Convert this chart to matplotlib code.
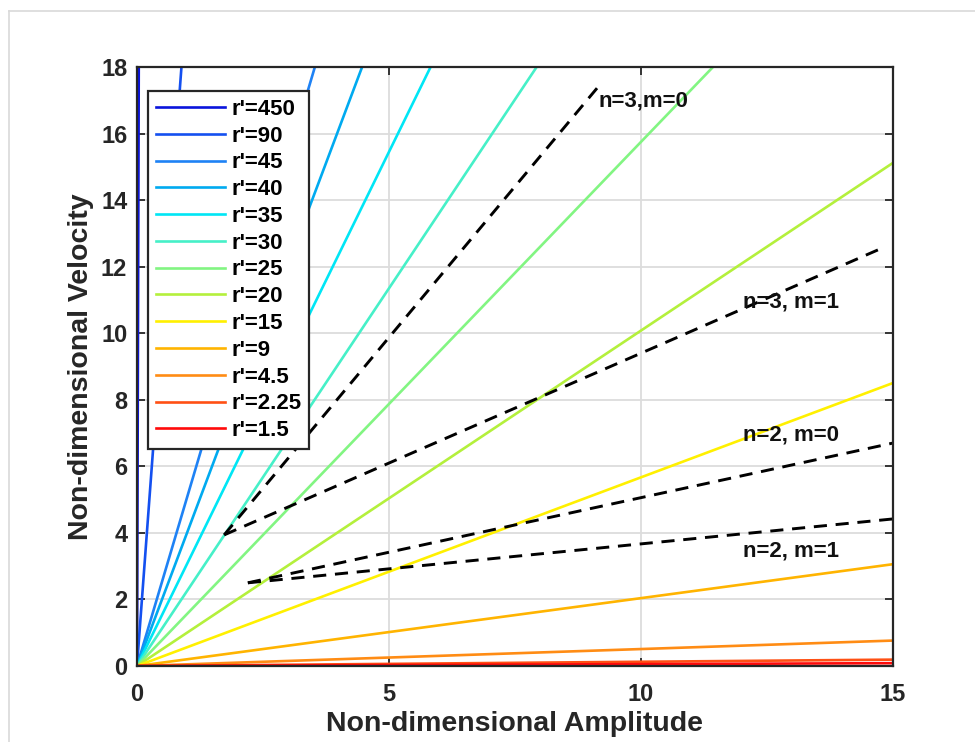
import numpy as np
import matplotlib
matplotlib.use("Agg")
import matplotlib.pyplot as plt
from matplotlib.lines import Line2D

# r' values and slopes of V = slope * A
r_labels = ["450", "90", "45", "40", "35", "30", "25", "20", "15", "9", "4.5", "2.25", "1.5"]
slopes = [510.0, 20.4, 5.1, 4.03, 3.09, 2.27, 1.575, 1.008, 0.567, 0.204, 0.051, 0.0128, 0.0057]
colors = ["#0A14DC", "#1450F0", "#1E82F5", "#00AAF0", "#00E6F5", "#46F0C8", "#82F582",
          "#B4F03C", "#FFF000", "#FFB400", "#FF8C14", "#FF5014", "#FF0A0A"]

# dashed mode boundaries (start / end points)
n3m0_x = [1.73, 9.23]
n3m0_y = [3.94, 17.55]
n3m1_x = [1.73, 14.74]
n3m1_y = [3.94, 12.53]
n2m0_x = [2.2, 15.0]
n2m0_y = [2.5, 6.7]
n2m1_x = [2.2, 15.0]
n2m1_y = [2.5, 4.42]

mode_labels = ["n=3,m=0", "n=3, m=1", "n=2, m=0", "n=2, m=1"]
label_x = [9.15, 12.03, 12.03, 12.03]
label_y = [16.98, 10.94, 6.94, 3.45]

plt.rcParams['font.family'] = ['Liberation Sans', 'DejaVu Sans']
plt.rcParams['font.weight'] = 'bold'

fig = plt.figure(figsize=(9.75, 7.42), dpi=100)
ax = fig.add_axes([0.1405, 0.1024, 0.7754, 0.8073])

# light frame of the screenshot
fig.add_artist(Line2D([9/975, 9/975], [0, 1-11/742], color="#d9d9d9", lw=1.2))
fig.add_artist(Line2D([9/975, 1], [1-11/742, 1-11/742], color="#d9d9d9", lw=1.2))

A = np.array([0.0, 15.0])
for lab, s, c in zip(r_labels, slopes, colors):
    ax.plot(A, s * A, color=c, lw=1.9, label="r'=" + lab)

for xs, ys in [(n3m0_x, n3m0_y), (n3m1_x, n3m1_y), (n2m0_x, n2m0_y), (n2m1_x, n2m1_y)]:
    ax.plot(xs, ys, color="black", lw=2.1, ls=(0, (4.5, 3.0)))

for t, x, y in zip(mode_labels, label_x, label_y):
    ax.text(x, y, t, fontsize=16, fontweight="bold", color="#111111", va="center")

ax.set_xlim(0, 15)
ax.set_ylim(0, 18)
ax.set_xticks([0, 5, 10, 15])
ax.set_yticks(np.arange(0, 19, 2))
ax.grid(True, color="#dcdcdc", lw=1.3)
ax.set_axisbelow(True)
ax.tick_params(direction="in", length=6, width=1.3, top=True, right=True,
               labelsize=17, colors="#262626")
ax.tick_params(axis="x", pad=12)
ax.tick_params(axis="y", pad=7)
for lab in ax.get_xticklabels() + ax.get_yticklabels():
    lab.set_fontweight("bold")
for sp in ax.spines.values():
    sp.set_color("#262626")
    sp.set_linewidth(1.6)

ax.set_xlabel("Non-dimensional Amplitude", fontsize=20.5, fontweight="bold", color="#262626", labelpad=4)
ax.set_ylabel("Non-dimensional Velocity", fontsize=20.5, fontweight="bold", color="#262626", labelpad=5)

leg = ax.legend(loc="upper left", bbox_to_anchor=(0.0146, 0.96), fontsize=16, frameon=True,
                fancybox=False, edgecolor="#262626", framealpha=1, handlelength=3.1,
                labelspacing=0.26, borderpad=0.35, handletextpad=0.3, borderaxespad=0)
leg.get_frame().set_linewidth(1.6)
for t in leg.get_texts():
    t.set_fontweight("bold")

fig.savefig("out.png", dpi=100)
